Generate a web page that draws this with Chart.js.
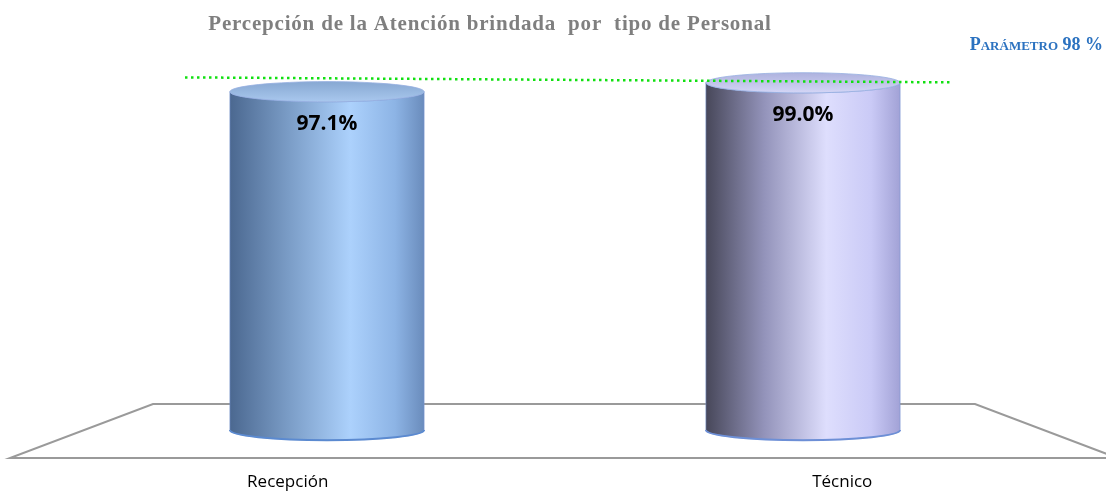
<!DOCTYPE html>
<html lang="es">
<head>
<meta charset="utf-8">
<title>Percepción de la Atención brindada por tipo de Personal</title>
<script src="https://cdn.jsdelivr.net/npm/chart.js"></script>
<style>
  html, body { margin: 0; padding: 0; background: #fff; }
  #contenedor { width: 1106px; height: 493px; position: relative; }
</style>
</head>
<body>
<div id="contenedor"><canvas id="graficoAtencion"></canvas></div>
<script>
// Datos del gráfico
const titulo = 'Percepción de la Atención brindada  por  tipo de Personal';
const categorias = ['Recepción', 'Técnico'];
const valores = [97.1, 99.0];
const parametro = 98;
const parametroTexto = 'Parámetro 98 %';

// Colores de cada cilindro (lados de izquierda a derecha, tapa y contorno)
const coloresCilindro = [
    { lados: ['#4b6890', '#7a9cc6', '#acd1fc', '#8db4e5', '#6a8cbc'], tapa: ['#87a8d2', '#a9c8ee'], contorno: '#5b8ad0' },
    { lados: ['#474759', '#9393ba', '#dedefd', '#cacaf6', '#a2a2d6'], tapa: ['#aeb2de', '#d4d6f6'], contorno: '#6d8fd6' }
];

// Pixel del piso (el mínimo del eje, la barra de Chart.js parte de 0)
function pixelBase(chart) {
    return chart.scales.y.getPixelForValue(chart.scales.y.min);
}

// Piso en perspectiva, dibujado detrás de los cilindros
const pisoPlugin = {
    id: 'piso',
    beforeDatasetsDraw(chart) {
        const { ctx, chartArea } = chart;
        const bar = chart.getDatasetMeta(0).data[0];
        const ry = bar.width * 0.052;
        const yMedio = pixelBase(chart) + ry;
        const yFondo = yMedio - 26;
        const yFrente = yMedio + 28;
        ctx.save();
        ctx.strokeStyle = '#9a9a9a';
        ctx.lineWidth = 2;
        ctx.beginPath();
        ctx.moveTo(chartArea.left + 64, yFondo);
        ctx.lineTo(chartArea.right - 66, yFondo);
        ctx.lineTo(chartArea.right + 77, yFrente);
        ctx.lineTo(chartArea.left - 79, yFrente);
        ctx.closePath();
        ctx.stroke();
        ctx.restore();
    }
};

// Cilindros, etiquetas de valor y línea del parámetro
const cilindrosPlugin = {
    id: 'cilindros',
    afterDatasetsDraw(chart) {
        const { ctx, chartArea } = chart;
        const meta = chart.getDatasetMeta(0);
        const base = pixelBase(chart);
        ctx.save();
        meta.data.forEach((bar, i) => {
            const { x, y, width } = bar.getProps(['x', 'y', 'width'], true);
            const col = coloresCilindro[i];
            const rx = width / 2;
            const ry = width * 0.052;
            const yTop = y + ry;
            const yBot = base + ry;

            // cuerpo
            const grad = ctx.createLinearGradient(x - rx, 0, x + rx, 0);
            grad.addColorStop(0, col.lados[0]);
            grad.addColorStop(0.3, col.lados[1]);
            grad.addColorStop(0.62, col.lados[2]);
            grad.addColorStop(0.85, col.lados[3]);
            grad.addColorStop(1, col.lados[4]);
            ctx.beginPath();
            ctx.moveTo(x - rx, yTop);
            ctx.lineTo(x - rx, yBot);
            ctx.ellipse(x, yBot, rx, ry, 0, Math.PI, 0, true);
            ctx.lineTo(x + rx, yTop);
            ctx.ellipse(x, yTop, rx, ry, 0, 0, Math.PI, false);
            ctx.closePath();
            ctx.fillStyle = grad;
            ctx.fill();
            ctx.strokeStyle = 'rgba(120,150,210,0.6)';
            ctx.lineWidth = 1;
            ctx.stroke();

            // borde inferior
            ctx.beginPath();
            ctx.ellipse(x, yBot, rx, ry, 0, Math.PI, 0, true);
            ctx.strokeStyle = col.contorno;
            ctx.lineWidth = 2;
            ctx.stroke();

            // tapa
            const gradTapa = ctx.createLinearGradient(0, yTop - ry, 0, yTop + ry);
            gradTapa.addColorStop(0, col.tapa[0]);
            gradTapa.addColorStop(1, col.tapa[1]);
            ctx.beginPath();
            ctx.ellipse(x, yTop, rx, ry, 0, 0, Math.PI * 2);
            ctx.fillStyle = gradTapa;
            ctx.fill();
            ctx.strokeStyle = 'rgba(150,175,225,0.8)';
            ctx.lineWidth = 1;
            ctx.stroke();

            // etiqueta de valor
            ctx.fillStyle = '#000';
            ctx.font = 'bold 21px "Open Sans", "Liberation Sans", sans-serif';
            ctx.textAlign = 'center';
            ctx.textBaseline = 'middle';
            ctx.fillText(valores[i].toFixed(1) + '%', x, yTop + 32);
        });

        // línea punteada del parámetro
        const yParam = chart.scales.y.getPixelForValue(parametro);
        ctx.beginPath();
        ctx.moveTo(chartArea.left + 96, yParam);
        ctx.lineTo(chartArea.right - 88, yParam + 5);
        ctx.setLineDash([2.5, 3.5]);
        ctx.strokeStyle = '#11e011';
        ctx.lineWidth = 2.5;
        ctx.stroke();
        ctx.setLineDash([]);
        ctx.restore();
    }
};

// Textos: título, parámetro y categorías (en perspectiva)
const textosPlugin = {
    id: 'textos',
    afterDraw(chart) {
        const { ctx, chartArea } = chart;
        ctx.save();
        ctx.textBaseline = 'middle';

        ctx.fillStyle = '#7f7f7f';
        ctx.font = 'bold 21px "Liberation Serif", "DejaVu Serif", serif';
        ctx.letterSpacing = '0.8px';
        ctx.textAlign = 'center';
        ctx.fillText(titulo, chart.width * 0.443, 25);
        ctx.letterSpacing = '0px';

        ctx.fillStyle = '#2b72c0';
        ctx.font = 'bold 18px "Liberation Serif", "DejaVu Serif", serif';
        ctx.fontVariantCaps = 'small-caps';
        ctx.textAlign = 'right';
        ctx.fillText(parametroTexto, chart.width - 3, 45);
        ctx.fontVariantCaps = 'normal';

        const medio = (chartArea.left + chartArea.right) / 2;
        ctx.fillStyle = '#000';
        ctx.font = '17px "Open Sans", "Liberation Sans", sans-serif';
        ctx.textAlign = 'center';
        chart.getDatasetMeta(0).data.forEach((bar, i) => {
            ctx.fillText(categorias[i], medio + (bar.x - medio) * 1.165, 482);
        });
        ctx.restore();
    }
};

const ctx = document.getElementById('graficoAtencion').getContext('2d');
const grafico = new Chart(ctx, {
    type: 'bar',
    data: {
        labels: categorias,
        datasets: [{
            label: 'Percepción',
            data: valores,
            backgroundColor: 'rgba(0,0,0,0)',
            borderWidth: 0,
            barPercentage: 0.408,
            categoryPercentage: 1
        }]
    },
    options: {
        responsive: true,
        maintainAspectRatio: false,
        animation: false,
        layout: { padding: { top: 68, bottom: 73, left: 89, right: 65 } },
        plugins: {
            legend: { display: false },
            tooltip: { enabled: false }
        },
        scales: {
            x: { display: false },
            y: { display: false, min: 25, max: 100 }
        }
    },
    plugins: [pisoPlugin, cilindrosPlugin, textosPlugin]
});
</script>
</body>
</html>
